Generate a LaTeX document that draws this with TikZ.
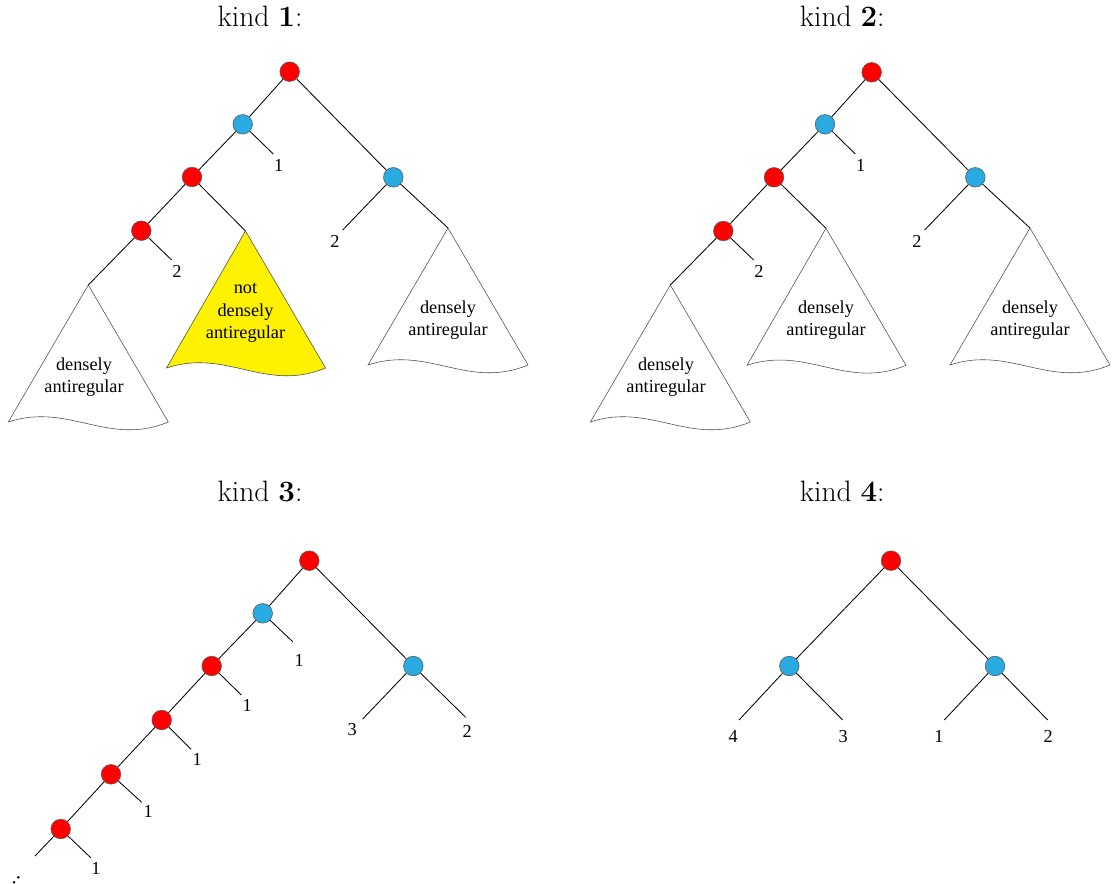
\documentclass[tikz,border=0pt]{standalone}
\usepackage{fontspec}
\newfontfamily\garfont{Liberation Serif}
\definecolor{knotred}{RGB}{255,0,0}
\definecolor{knotblue}{RGB}{41,171,226}
\definecolor{hiyellow}{RGB}{255,242,0}
\begin{document}
\begin{tikzpicture}[x=0.025cm, y=-0.025cm]
        \tikzstyle{rnode} = [circle, draw=black!65, fill=knotred, minimum size=0.49cm, inner sep=0pt]
        \tikzstyle{bnode} = [circle, draw=black!65, fill=knotblue, minimum size=0.49cm, inner sep=0pt]
        \tikzstyle{line} = [draw, line width=0.6pt]
        \tikzstyle{tri} = [draw=black!70, line width=0.4pt]
        \tikzstyle{num} = [font=\garfont\fontsize{13}{16}\selectfont, inner sep=1pt]
        \tikzstyle{tritext} = [font=\garfont\fontsize{13}{16}\selectfont, align=center]
        \tikzstyle{kind} = [font=\fontsize{21}{25}\selectfont, anchor=base]
        \useasboundingbox (0,0) rectangle (1114,884);
        % kind 1
        \node [kind] (a-title) at (260,26.7) {kind \textbf{1}:};
        \node [rnode] (a-r) at (289.7,71.7) {};
        \node [bnode] (a-b1) at (242.7,124.3) {};
        \node [rnode] (a-r2) at (192,177) {};
        \node [rnode] (a-r3) at (141.3,230.7) {};
        \node [bnode] (a-b2) at (393.3,177.3) {};
        \coordinate (a-e1) at (273.3,154);
        \coordinate (a-e2) at (171.7,260);
        \coordinate (a-e3) at (342.7,230);
        \coordinate (a-t1) at (88.3,285);
        \coordinate (a-t2) at (245.5,231);
        \coordinate (a-t3) at (448,228);
        \node [num] (a-n1) at (278.7,165.7) {1};
        \node [num] (a-n2) at (177,271.7) {2};
        \node [num] (a-n3) at (335,241.7) {2};
        \path [line] (a-r) -- (a-b1);
        \path [line] (a-b1) -- (a-r2);
        \path [line] (a-b1) -- (a-e1);
        \path [line] (a-r2) -- (a-r3);
        \path [line] (a-r2) -- (a-t2);
        \path [line] (a-r3) -- (a-e2);
        \path [line] (a-r3) -- (a-t1);
        \path [line] (a-r) -- (a-b2);
        \path [line] (a-b2) -- (a-e3);
        \path [line] (a-b2) -- (a-t3);
        \path [tri] (a-t1) -- ++(-80,137) .. controls +(60,-20) and +(-60,25) .. ++(160,0) -- cycle;
        \path [tri, fill=hiyellow] (a-t2) -- ++(-79,137) .. controls +(60,-20) and +(-60,25) .. ++(159,0) -- cycle;
        \path [tri] (a-t3) -- ++(-80,137) .. controls +(60,-20) and +(-60,25) .. ++(160,0) -- cycle;
        \node [tritext] (a-d1) at (84,377) {densely\\antiregular};
        \node [tritext] (a-d2) at (245.5,313) {not\\densely\\antiregular};
        \node [tritext] (a-d3) at (448,320) {densely\\antiregular};
        % kind 2
        \node [kind] (b-title) at (842.2,26.7) {kind \textbf{2}:};
        \node [rnode] (b-r) at (871.7,72.3) {};
        \node [bnode] (b-b1) at (825,124.3) {};
        \node [rnode] (b-r2) at (774,177.3) {};
        \node [rnode] (b-r3) at (723.3,231) {};
        \node [bnode] (b-b2) at (975.3,177.3) {};
        \coordinate (b-e1) at (855.3,154);
        \coordinate (b-e2) at (753.7,260);
        \coordinate (b-e3) at (924.7,230);
        \coordinate (b-t1) at (670.3,285);
        \coordinate (b-t2) at (826,228.3);
        \coordinate (b-t3) at (1030,228);
        \node [num] (b-n1) at (860.7,165.7) {1};
        \node [num] (b-n2) at (759,271.7) {2};
        \node [num] (b-n3) at (917,241.7) {2};
        \path [line] (b-r) -- (b-b1);
        \path [line] (b-b1) -- (b-r2);
        \path [line] (b-b1) -- (b-e1);
        \path [line] (b-r2) -- (b-r3);
        \path [line] (b-r2) -- (b-t2);
        \path [line] (b-r3) -- (b-e2);
        \path [line] (b-r3) -- (b-t1);
        \path [line] (b-r) -- (b-b2);
        \path [line] (b-b2) -- (b-e3);
        \path [line] (b-b2) -- (b-t3);
        \path [tri] (b-t1) -- ++(-80,137) .. controls +(60,-20) and +(-60,25) .. ++(160,0) -- cycle;
        \path [tri] (b-t2) -- ++(-79,137) .. controls +(60,-20) and +(-60,25) .. ++(159,0) -- cycle;
        \path [tri] (b-t3) -- ++(-80,137) .. controls +(60,-20) and +(-60,25) .. ++(160,0) -- cycle;
        \node [tritext] (b-d1) at (666,377) {densely\\antiregular};
        \node [tritext] (b-d2) at (826,320) {densely\\antiregular};
        \node [tritext] (b-d3) at (1030,320) {densely\\antiregular};
        % kind 3
        \node [kind] (c-title) at (260,501.7) {kind \textbf{3}:};
        \node [rnode] (c-r) at (309.3,560.7) {};
        \node [bnode] (c-b1) at (262.7,613.3) {};
        \node [rnode] (c-r2) at (211.7,666) {};
        \node [rnode] (c-r3) at (161.7,720) {};
        \node [rnode] (c-r4) at (111,774.3) {};
        \node [rnode] (c-r5) at (60.7,829) {};
        \node [bnode] (c-b2) at (413.3,666) {};
        \coordinate (c-e1) at (292.7,641.7);
        \coordinate (c-e2) at (241.3,695);
        \coordinate (c-e3) at (191,749.3);
        \coordinate (c-e4) at (141.7,802.3);
        \coordinate (c-e5) at (90.7,857.7);
        \coordinate (c-e6) at (35,856);
        \coordinate (c-e7) at (362.7,719);
        \coordinate (c-e8) at (465.7,717.3);
        \node [num] (c-n1) at (299.3,660.7) {1};
        \node [num] (c-n2) at (247.3,705) {1};
        \node [num] (c-n3) at (197.3,759) {1};
        \node [num] (c-n4) at (148.3,811.7) {1};
        \node [num] (c-n5) at (96,868.3) {1};
        \node [num] (c-n7) at (352.3,730) {3};
        \node [num] (c-n8) at (467.3,731.7) {2};
        \path [line] (c-r) -- (c-b1);
        \path [line] (c-b1) -- (c-r2);
        \path [line] (c-r2) -- (c-r3);
        \path [line] (c-r3) -- (c-r4);
        \path [line] (c-r4) -- (c-r5);
        \path [line] (c-r5) -- (c-e6);
        \path [line] (c-b1) -- (c-e1);
        \path [line] (c-r2) -- (c-e2);
        \path [line] (c-r3) -- (c-e3);
        \path [line] (c-r4) -- (c-e4);
        \path [line] (c-r5) -- (c-e5);
        \path [line] (c-r) -- (c-b2);
        \path [line] (c-b2) -- (c-e7);
        \path [line] (c-b2) -- (c-e8);
        \foreach \x/\y in {18.3/877.3, 14/882.3, 9.7/887.3}
            \fill (\x,\y) circle (1.4);
        % kind 4
        \node [kind] (d-title) at (842.2,501.7) {kind \textbf{4}:};
        \node [rnode] (d-r) at (891,560.7) {};
        \node [bnode] (d-b1) at (789.3,666) {};
        \node [bnode] (d-b2) at (995,666) {};
        \coordinate (d-e1) at (739,720);
        \coordinate (d-e2) at (842.7,720);
        \coordinate (d-e3) at (944.3,720);
        \coordinate (d-e4) at (1047.7,720);
        \node [num] (d-n1) at (733.3,736.7) {4};
        \node [num] (d-n2) at (843.3,736.7) {3};
        \node [num] (d-n3) at (939,736.7) {1};
        \node [num] (d-n4) at (1048.3,736.7) {2};
        \path [line] (d-r) -- (d-b1);
        \path [line] (d-r) -- (d-b2);
        \path [line] (d-b1) -- (d-e1);
        \path [line] (d-b1) -- (d-e2);
        \path [line] (d-b2) -- (d-e3);
        \path [line] (d-b2) -- (d-e4);
    \end{tikzpicture}
\end{document}
